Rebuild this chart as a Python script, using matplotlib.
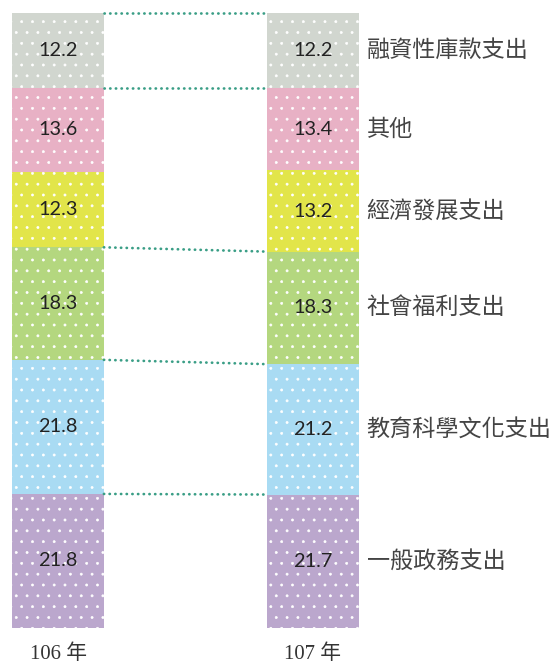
import matplotlib
matplotlib.use("Agg")
import matplotlib.pyplot as plt
import numpy as np

# ── Dados (%), de baixo para cima ─────────────────────────────────────────────
categories = ["一般政務支出", "教育科學文化支出", "社會福利支出",
              "經濟發展支出", "其他", "融資性庫款支出"]
years = ["106 年", "107 年"]
share_106 = [21.8, 21.8, 18.3, 12.3, 13.6, 12.2]
share_107 = [21.7, 21.2, 18.3, 13.2, 13.4, 12.2]
# ligação pontilhada no topo de cada segmento
linked_top = [True, True, True, False, True, True]

colors = ["#BBA7CD", "#A9DBF3", "#B4D77F", "#E2E54A", "#E8B1C5", "#D1D6CF"]
LINK_COLOR = "#3A9E86"

DPI = 130
plt.rcParams["hatch.color"] = "white"
plt.rcParams["hatch.linewidth"] = 0.35

fig = plt.figure(figsize=(554 / DPI, 666 / DPI), dpi=DPI)
ax = fig.add_axes([0, 0, 1, 1])

bar_w = 0.36
series = [share_106, share_107]

# ── Colunas empilhadas ────────────────────────────────────────────────────────
tops = []
for xi, vals in enumerate(series):
    bottoms = np.concatenate([[0], np.cumsum(vals)[:-1]])
    ax.bar([xi] * len(vals), vals, bottom=bottoms, width=bar_w,
           color=colors, hatch="..", linewidth=0)
    for v, b in zip(vals, bottoms):
        ax.text(xi, b + v / 2, f"{v:.1f}", ha="center", va="center",
                fontsize=11, family="Lato", color="#222222")
    tops.append(np.cumsum(vals))

# ── Ligações entre colunas ────────────────────────────────────────────────────
for y0, y1, link in zip(tops[0], tops[1], linked_top):
    if link:
        ax.plot([bar_w / 2, 1 - bar_w / 2], [y0, y1], color=LINK_COLOR,
                linewidth=1.5, linestyle=(0, (0.1, 2.0)),
                dash_capstyle="round")

# ── Rótulos das categorias (à direita) ────────────────────────────────────────
mid_107 = tops[1] - np.array(share_107) / 2
for name, y in zip(categories, mid_107):
    ax.text(1 + bar_w / 2 + 0.03, y, name, ha="left", va="center",
            fontsize=12.8, family=["Noto Sans CJK TC"], weight="light",
            color="#444444")

for xi, yr in enumerate(years):
    ax.text(xi, -4.3, yr, ha="center", va="center", fontsize=11.5,
            family=["Liberation Serif", "Noto Sans CJK TC"], color="#333333")

ax.set_xlim(-58 / 255, (554 - 58) / 255)
ax.set_ylim(-38 / 6.15, 100 + 13 / 6.15)
ax.axis("off")

plt.savefig("out.png", dpi=DPI)
plt.close()
